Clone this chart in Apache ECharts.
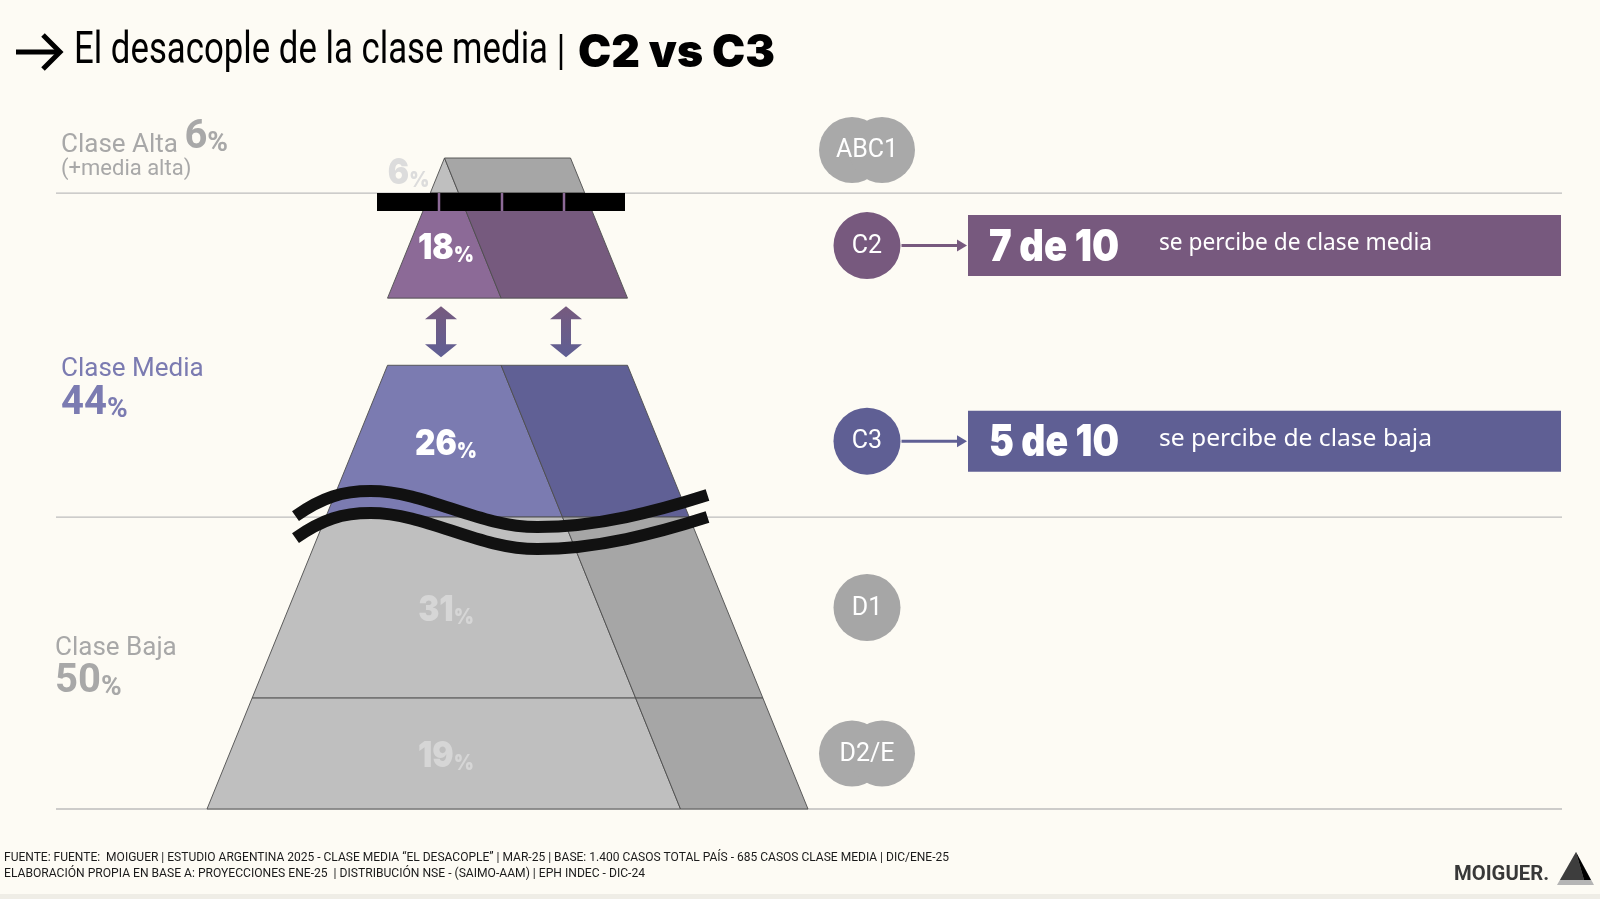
<!DOCTYPE html>
<html lang="es">
<head>
<meta charset="utf-8">
<title>El desacople de la clase media | C2 vs C3</title>
<script src="https://cdn.jsdelivr.net/npm/echarts@6.0.0/dist/echarts.min.js"></script>
<style>
html,body{margin:0;padding:0;background:#fdfbf4;overflow:hidden;}
#chart{width:1600px;height:899px;}
</style>
</head>
<body>
<div id="chart"></div>
<script>
// ---------------- DATA ----------------
const segments = ['ABC1', 'C2', 'C3', 'D1', 'D2/E'];
const segmentShares = [6, 18, 26, 31, 19];
const classNames = ['Clase Alta', 'Clase Media', 'Clase Baja'];
const classShares = [6, 44, 50];
const classNotes = ['(+media alta)', '', ''];
const highlightSegments = ['C2', 'C3'];
const highlightValues = ['7 de 10', '5 de 10'];
const highlightTexts = ['se percibe de clase media', 'se percibe de clase baja'];
const titleMain = 'El desacople de la clase media';
const titleBold = 'C2 vs C3';
const footnotes = [
  'FUENTE: FUENTE:  MOIGUER | ESTUDIO ARGENTINA 2025 - CLASE MEDIA “EL DESACOPLE” | MAR-25 | BASE: 1.400 CASOS TOTAL PAÍS - 685 CASOS CLASE MEDIA | DIC/ENE-25',
  'ELABORACIÓN PROPIA EN BASE A: PROYECCIONES ENE-25  | DISTRIBUCIÓN NSE - (SAIMO-AAM) | EPH INDEC - DIC-24'
];
const brand = 'MOIGUER.';

// ---------------- STYLE / LAYOUT ----------------
const BG = '#fdfbf4';
const FRONT = ['#bfbfbf', '#8c6a97', '#7b7bb1', '#bfbfbf', '#bfbfbf'];
const SIDE = ['#a6a6a6', '#765a7e', '#606095', '#a6a6a6', '#a6a6a6'];
const PCT_COLORS = ['#dcdcdc', '#ffffff', '#ffffff', '#d6d6d6', '#d6d6d6'];
const CIRCLE_COLORS = ['#a9a9a9', '#77597e', '#5f5f94', '#a6a6a6', '#a9a9a9'];
const CIRCLE_DOUBLE = [true, false, false, false, true];
const CLASS_COLORS = ['#a8a8a8', '#7b7bb1', '#a8a8a8'];
const CLASS_X = [61, 61, 55];
const CLASS_DY = [[-20, 11], [4, 39], [-50, -16]];
const GAP = 11.5;               // visual gap (in % units) inserted above C3
const CX = 507.5, BASE_HALF = 300.5, TOP_HALF = 63, DIV_BASE = 173, DIV_TOP = -63;
const PCT_X = -61.5;
const CIRCLE_X = 867, CIRCLE_R = 33.5;
const BOX_X0 = 968, BOX_X1 = 1561, BOX_H = 61;
const LINE_X0 = 56, LINE_X1 = 1562;
const HEAVY = 'Inter, Lato, sans-serif';
const SANS = 'Roboto, "Noto Sans", sans-serif';

// ---------------- DERIVED ----------------
const N = segments.length;
const bottoms = [], tops = [];
(function () { let acc = 0; for (let i = N - 1; i >= 0; i--) { bottoms[i] = acc; acc += segmentShares[i]; tops[i] = acc; } })();
const gapAbove = segments.indexOf('C3');
const off = i => (i < gapAbove ? GAP : 0);
const TOTAL = tops[0];
const classBottoms = [], classTops = [];
(function () { let acc = 0; for (let k = classNames.length - 1; k >= 0; k--) { classBottoms[k] = acc; acc += classShares[k]; classTops[k] = acc; } })();
const drawnP = p => (p > tops[gapAbove] ? p + GAP : p);

const hw = p => BASE_HALF - (BASE_HALF - TOP_HALF) * p / TOTAL;
const dv = p => DIV_BASE + (DIV_TOP - DIV_BASE) * p / TOTAL;

function fitScale(text, font, target) {
  const ctx = document.createElement('canvas').getContext('2d');
  ctx.font = font;
  return target / ctx.measureText(text).width;
}

// ---------------- RENDERERS ----------------
function renderLines(params, api) {
  const p = drawnP(api.value(0));
  const a = api.coord([LINE_X0, p]), b = api.coord([LINE_X1, p]);
  return { type: 'line', shape: { x1: a[0], y1: a[1], x2: b[0], y2: b[1] }, style: { stroke: '#bdbdbd', lineWidth: 1.3 } };
}

function renderPyramid(params, api) {
  const i = api.value(0);
  const p0 = bottoms[i], p1 = tops[i], o = off(i);
  const pt = (dx, p) => api.coord([CX + dx, p + o]);
  const front = [pt(-hw(p0), p0), pt(dv(p0), p0), pt(dv(p1), p1), pt(-hw(p1), p1)];
  const side = [pt(dv(p0), p0), pt(hw(p0), p0), pt(hw(p1), p1), pt(dv(p1), p1)];
  const pm = (p0 + p1) / 2;
  let label;
  const rich = {
    n: { fontFamily: HEAVY, fontWeight: 900, fontSize: 36, fill: PCT_COLORS[i], verticalAlign: 'bottom' },
    p: { fontFamily: HEAVY, fontWeight: 900, fontSize: 22, fill: PCT_COLORS[i], verticalAlign: 'bottom' }
  };
  if (i === 0) {
    const c = pt(-hw(pm) - 8, pm);
    label = { type: 'text', x: c[0], y: c[1] - 2, scaleX: 0.88, style: { text: '{n|' + segmentShares[i] + '}{p|%}', rich: rich, align: 'right', verticalAlign: 'middle' } };
  } else {
    const c = pt(PCT_X, pm);
    label = { type: 'text', x: c[0], y: c[1] + 3, scaleX: 0.88, style: { text: '{n|' + segmentShares[i] + '}{p|%}', rich: rich, align: 'center', verticalAlign: 'middle' } };
  }
  const strokeStyle = { stroke: '#4d4d4d', lineWidth: 0.9 };
  return {
    type: 'group', children: [
      { type: 'polygon', shape: { points: front }, style: Object.assign({ fill: FRONT[i] }, strokeStyle) },
      { type: 'polygon', shape: { points: side }, style: Object.assign({ fill: SIDE[i] }, strokeStyle) },
      label
    ]
  };
}

function renderDecor(params, api) {
  const children = [];
  const cx = api.coord([CX, 0])[0];
  // black cut bar at the top of C2
  const iC2 = gapAbove - 1;
  const yb = api.coord([CX, tops[iC2] + off(iC2)])[1];
  children.push({ type: 'rect', shape: { x: cx - 130.5, y: yb, width: 248, height: 18 }, style: { fill: '#000' } });
  [-68.5, -5.5, 56.5].forEach(t => {
    children.push({ type: 'line', shape: { x1: cx + t, y1: yb, x2: cx + t, y2: yb + 18 }, style: { stroke: FRONT[iC2], lineWidth: 2.5 } });
  });
  // double arrows inside the gap
  const yt = api.coord([CX, bottoms[iC2] + off(iC2)])[1] + 8;
  const ybt = api.coord([CX, tops[gapAbove]])[1] - 8;
  [-66.5, 58.5].forEach(dx => {
    const x = cx + dx, hh = 13, hw2 = 16, sw = 5;
    children.push({
      type: 'polygon',
      shape: { points: [[x, yt], [x + hw2, yt + hh], [x + sw, yt + hh], [x + sw, ybt - hh], [x + hw2, ybt - hh], [x, ybt], [x - hw2, ybt - hh], [x - sw, ybt - hh], [x - sw, yt + hh], [x - hw2, yt + hh]] },
      style: { fill: new echarts.graphic.LinearGradient(0, 0, 0, 1, [{ offset: 0, color: '#765a7e' }, { offset: 1, color: '#5f5f94' }]) }
    });
  });
  // wavy break marks across the C3 / D1 boundary
  const B = api.coord([CX, bottoms[gapAbove]])[1] - 1;
  const P = (dx, dy) => (cx + dx) + ' ' + (B + dy);
  [0, 22].forEach(s => {
    const d = 'M ' + P(-212, 0 + s) + ' C ' + P(-185, -19 + s) + ' ' + P(-165, -25 + s) + ' ' + P(-137, -25 + s) +
      ' C ' + P(-80, -25 + s) + ' ' + P(-30, 11 + s) + ' ' + P(30, 11 + s) +
      ' C ' + P(90, 11 + s) + ' ' + P(150, -5 + s) + ' ' + P(200, -21 + s);
    children.push({ type: 'path', shape: { pathData: d }, style: { fill: null, stroke: '#111', lineWidth: 12, lineCap: 'butt' } });
  });
  return { type: 'group', children: children };
}

function renderRight(params, api) {
  const i = api.value(0);
  const children = [];
  let y;
  if (i === 0) y = api.coord([CIRCLE_X, tops[0] + off(0)])[1] - 8;
  else y = api.coord([CIRCLE_X, (bottoms[i] + tops[i]) / 2 + off(i)])[1];
  const x = api.coord([CIRCLE_X, 0])[0];
  const col = CIRCLE_COLORS[i];
  if (CIRCLE_DOUBLE[i]) {
    children.push({ type: 'circle', shape: { cx: x - 15, cy: y, r: 33 }, style: { fill: col } });
    children.push({ type: 'circle', shape: { cx: x + 15, cy: y, r: 33 }, style: { fill: col } });
  } else {
    children.push({ type: 'circle', shape: { cx: x, cy: y, r: CIRCLE_R }, style: { fill: col } });
  }
  children.push({ type: 'text', x: x, y: y + 1, style: { text: segments[i], fill: '#fff', font: '400 25px ' + SANS, align: 'center', verticalAlign: 'middle' } });
  const h = highlightSegments.indexOf(segments[i]);
  if (h >= 0) {
    const bx0 = api.coord([BOX_X0, 0])[0], bx1 = api.coord([BOX_X1, 0])[0];
    children.push({ type: 'line', shape: { x1: x + CIRCLE_R + 1, y1: y, x2: bx0 - 9, y2: y }, style: { stroke: col, lineWidth: 3 } });
    children.push({ type: 'polygon', shape: { points: [[bx0 - 11, y - 6], [bx0 - 1, y], [bx0 - 11, y + 6]] }, style: { fill: col } });
    children.push({ type: 'rect', shape: { x: bx0, y: y - BOX_H / 2, width: bx1 - bx0, height: BOX_H }, style: { fill: col } });
    const vf = '900 44px ' + HEAVY;
    children.push({ type: 'text', x: bx0 + 21, y: y + 2, scaleX: fitScale(highlightValues[h], vf, 130), style: { text: highlightValues[h], fill: '#fff', font: vf, align: 'left', verticalAlign: 'middle' } });
    const tf = '400 24px "Noto Sans", ' + SANS;
    children.push({ type: 'text', x: bx0 + 191, y: y - 2, scaleX: fitScale(highlightTexts[h], tf, 273), style: { text: highlightTexts[h], fill: '#fff', font: tf, align: 'left', verticalAlign: 'middle' } });
  }
  return { type: 'group', children: children };
}

function renderClasses(params, api) {
  const k = api.value(0);
  let anchorP;
  if (k === 0) anchorP = classTops[0] + GAP;
  else if (k === 1) anchorP = tops[gapAbove];
  else anchorP = tops[N - 1];
  const y = api.coord([0, anchorP])[1];
  const x = api.coord([CLASS_X[k], 0])[0];
  const c = CLASS_COLORS[k];
  const rich = {
    t: { fontFamily: SANS, fontWeight: 400, fontSize: 26, fill: c, verticalAlign: 'bottom' },
    b: { fontFamily: SANS, fontWeight: 700, fontSize: 40, fill: c, verticalAlign: 'bottom' },
    p: { fontFamily: SANS, fontWeight: 700, fontSize: 28, fill: c, verticalAlign: 'bottom' }
  };
  const children = [];
  if (k === 0) {
    children.push({ type: 'text', x: x, y: y + CLASS_DY[k][0], style: { text: '{t|' + classNames[k] + ' }{b|' + classShares[k] + '}{p|%}', rich: rich, align: 'left', verticalAlign: 'middle' } });
    children.push({ type: 'text', x: x, y: y + CLASS_DY[k][1], style: { text: classNotes[k], fill: c, font: '400 22px ' + SANS, align: 'left', verticalAlign: 'middle' } });
  } else {
    children.push({ type: 'text', x: x, y: y + CLASS_DY[k][0], style: { text: classNames[k], fill: c, font: '400 26px ' + SANS, align: 'left', verticalAlign: 'middle' } });
    children.push({ type: 'text', x: x, y: y + CLASS_DY[k][1], style: { text: '{b|' + classShares[k] + '}{p|%}', rich: rich, align: 'left', verticalAlign: 'middle' } });
  }
  return { type: 'group', children: children };
}

// ---------------- CHART ----------------
const chart = echarts.init(document.getElementById('chart'), null, { renderer: 'canvas', width: 1600, height: 899 });
const idx = arr => arr.map((_, i) => [i]);
const titleFont = '400 44px ' + SANS;
const boldFont = '900 45px ' + HEAVY;
const footFont = '400 12px ' + SANS;
const brandFont = '700 20px ' + SANS;

const option = {
  backgroundColor: BG,
  animation: false,
  grid: { left: 0, right: 0, top: 158, bottom: 90 },
  xAxis: { type: 'value', min: 0, max: 1600, show: false },
  yAxis: { type: 'value', min: 0, max: TOTAL + GAP, show: false },
  series: [
    { type: 'custom', name: 'lines', z: 1, renderItem: renderLines, data: classBottoms.map(v => [v]) },
    { type: 'custom', name: 'pyramid', z: 2, renderItem: renderPyramid, data: idx(segments) },
    { type: 'custom', name: 'decor', z: 3, renderItem: renderDecor, data: [[0]] },
    { type: 'custom', name: 'segments', z: 3, renderItem: renderRight, data: idx(segments) },
    { type: 'custom', name: 'classes', z: 3, renderItem: renderClasses, data: idx(classNames) }
  ],
  graphic: [
    // title arrow
    { type: 'polyline', shape: { points: [[16, 52], [60, 52]] }, style: { stroke: '#000', lineWidth: 5, fill: null } },
    { type: 'polyline', shape: { points: [[43, 35], [60, 52], [43, 69]] }, style: { stroke: '#000', lineWidth: 5, fill: null } },
    { type: 'text', x: 74, y: 52, scaleX: fitScale(titleMain, titleFont, 474), style: { text: titleMain, font: titleFont, fill: '#000', align: 'left', verticalAlign: 'middle' } },
    { type: 'line', shape: { x1: 561, y1: 34, x2: 561, y2: 70 }, style: { stroke: '#000', lineWidth: 2.5 } },
    { type: 'text', x: 578, y: 53, scaleX: fitScale(titleBold, boldFont, 197), style: { text: titleBold, font: boldFont, fill: '#000', align: 'left', verticalAlign: 'middle' } },
    // footnotes
    { type: 'text', x: 4, y: 858, scaleX: fitScale(footnotes[0], footFont, 945), style: { text: footnotes[0], font: footFont, fill: '#1a1a1a', align: 'left', verticalAlign: 'middle' } },
    { type: 'text', x: 4, y: 874, scaleX: fitScale(footnotes[1], footFont, 641), style: { text: footnotes[1], font: footFont, fill: '#1a1a1a', align: 'left', verticalAlign: 'middle' } },
    // brand
    { type: 'text', x: 1454, y: 875, scaleX: fitScale(brand, brandFont, 95), style: { text: brand, font: brandFont, fill: '#383838', align: 'left', verticalAlign: 'middle' } },
    { type: 'polygon', shape: { points: [[1576, 852], [1557, 885], [1594, 885]] }, style: { fill: '#b5b5b5' } },
    { type: 'polygon', shape: { points: [[1576, 852], [1560, 880], [1584, 880]] }, style: { fill: '#3d3d3d' } },
    { type: 'polygon', shape: { points: [[1576, 852], [1584, 880], [1591, 880]] }, style: { fill: '#000' } },
    // bottom band
    { type: 'rect', shape: { x: 0, y: 894, width: 1600, height: 5 }, style: { fill: '#efede6' } }
  ]
};
chart.setOption(option);
</script>
</body>
</html>
